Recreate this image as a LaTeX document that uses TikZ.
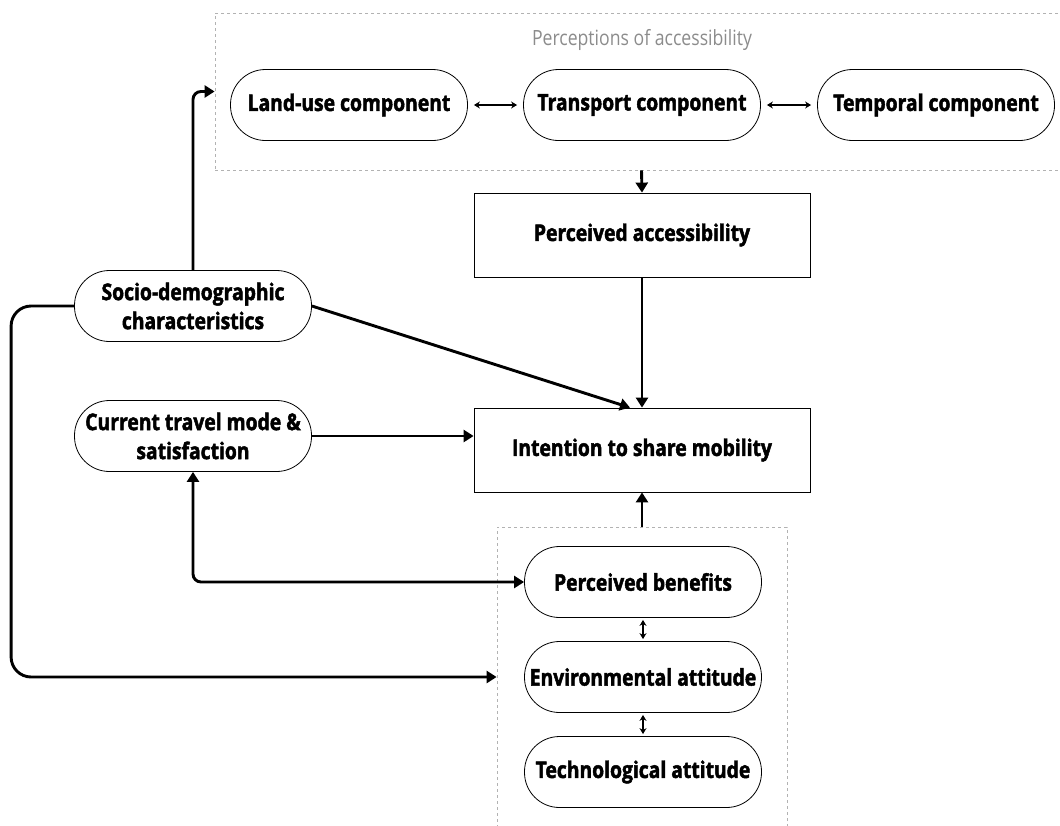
\documentclass[tikz,border=0pt]{standalone}
\usepackage{fontspec}
\setmainfont{Open Sans}[FakeStretch=0.84, BoldFeatures={FakeBold=2}]
\usetikzlibrary{arrows.meta}

\begin{document}
\begin{tikzpicture}[x=1pt, y=-1pt,
      every node/.style = {font=\fontsize{23}{29}\selectfont\bfseries, align=center, inner sep=0pt},
      pill/.style = {draw, line width=0.8pt, rounded corners=35pt, minimum width=237pt, minimum height=71pt},
      boxed/.style = {draw, line width=0.8pt, minimum width=336pt, minimum height=84pt},
      group/.style = {draw=gray!60, dashed, line width=0.8pt},
      flow/.style = {line width=2.9pt, -{Triangle[length=10pt,width=12pt]}},
      twoway/.style = {line width=2.9pt, {Triangle[length=10pt,width=12pt]}-{Triangle[length=10pt,width=12pt]}},
      link/.style = {line width=1.3pt, {Stealth[length=6pt,width=7pt]}-{Stealth[length=6pt,width=7pt]}, shorten <=6pt, shorten >=6pt}]
    \useasboundingbox (0,0) rectangle (1060,825);
    % dashed groups
    \node[group, minimum width=853pt, minimum height=157pt] (percgroup) at (641.5,91.5) {};
    \node[group, minimum width=290pt, minimum height=310pt] (attgroup) at (642,682) {};
    \node[font=\fontsize{21}{24}\selectfont, text=gray!90] (perctitle) at (642,40) {Perceptions of accessibility};
    % nodes
    \node[pill] (landuse) at (349,105) {Land-use component};
    \node[pill] (transport) at (642,105) {Transport component};
    \node[pill] (temporal) at (936,105) {Temporal component};
    \node[boxed] (percacc) at (642,235) {Perceived accessibility};
    \node[boxed] (intention) at (642,450) {Intention to share mobility};
    \node[pill] (socio) at (193,306) {Socio-demographic\\characteristics};
    \node[pill] (current) at (193,436) {Current travel mode \&\\satisfaction};
    \node[pill] (benefits) at (643,582) {Perceived benefits};
    \node[pill] (environ) at (643,677) {Environmental attitude};
    \node[pill] (techno) at (643,772) {Technological attitude};
    % connectors
    \draw[link] (landuse) -- (transport);
    \draw[link] (transport) -- (temporal);
    \draw[link, shorten <=2pt, shorten >=2pt] (benefits) -- (environ);
    \draw[link, shorten <=2pt, shorten >=2pt] (environ) -- (techno);
    \draw[flow] (percgroup.south) -- (percacc.north);
    \draw[flow] (percacc) -- (intention);
    \draw[flow, rounded corners=8pt] (socio.north) |- (percgroup.west);
    \draw[flow] (socio.east) -- ([xshift=-12pt]intention.north);
    \draw[flow] (current.east) -- (current.east -| intention.west);
    \draw[flow, rounded corners=20pt] (socio.west) -- ++(-63,0) |- (attgroup.west |- environ);
    \draw[twoway, rounded corners=8pt] (current.south) |- (benefits.west);
    \draw[flow] (attgroup.north) -- (intention.south);
\end{tikzpicture}
\end{document}
